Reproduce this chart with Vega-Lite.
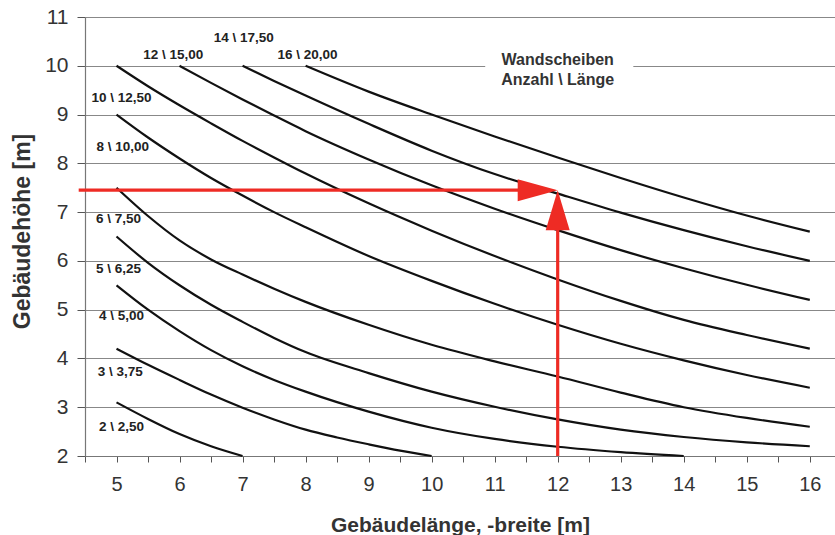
{
  "$schema": "https://vega.github.io/schema/vega-lite/v6.json",
  "width": 750,
  "height": 439,
  "autosize": {"type": "none"},
  "padding": {"left": 85, "top": 17, "right": 0, "bottom": 79},
  "background": "white",
  "config": {
    "font": "Liberation Sans",
    "view": {"stroke": null},
    "axis": {"labelFont": "Liberation Sans", "titleFont": "Liberation Sans"}
  },
  "datasets": {
    "curves": [
      {"n": "2", "l": 5, "h": 3.1}, {"n": "2", "l": 5.5, "h": 2.76}, {"n": "2", "l": 6, "h": 2.45}, {"n": "2", "l": 6.5, "h": 2.2}, {"n": "2", "l": 7, "h": 2.0},
      {"n": "3", "l": 5, "h": 4.2}, {"n": "3", "l": 5.5, "h": 3.87}, {"n": "3", "l": 6, "h": 3.56}, {"n": "3", "l": 6.5, "h": 3.26}, {"n": "3", "l": 7, "h": 2.99}, {"n": "3", "l": 7.5, "h": 2.75}, {"n": "3", "l": 8, "h": 2.54}, {"n": "3", "l": 8.5, "h": 2.38}, {"n": "3", "l": 9, "h": 2.24}, {"n": "3", "l": 9.5, "h": 2.11}, {"n": "3", "l": 10, "h": 2.0},
      {"n": "4", "l": 5, "h": 5.5}, {"n": "4", "l": 5.5, "h": 5.0}, {"n": "4", "l": 6, "h": 4.56}, {"n": "4", "l": 6.5, "h": 4.17}, {"n": "4", "l": 7, "h": 3.84}, {"n": "4", "l": 7.5, "h": 3.56}, {"n": "4", "l": 8, "h": 3.32}, {"n": "4", "l": 9, "h": 2.91}, {"n": "4", "l": 10, "h": 2.58}, {"n": "4", "l": 11, "h": 2.35}, {"n": "4", "l": 12, "h": 2.19}, {"n": "4", "l": 13, "h": 2.08}, {"n": "4", "l": 14, "h": 2.0},
      {"n": "5", "l": 5, "h": 6.5}, {"n": "5", "l": 5.5, "h": 5.96}, {"n": "5", "l": 6, "h": 5.5}, {"n": "5", "l": 6.5, "h": 5.1}, {"n": "5", "l": 7, "h": 4.75}, {"n": "5", "l": 7.5, "h": 4.42}, {"n": "5", "l": 8, "h": 4.13}, {"n": "5", "l": 9, "h": 3.7}, {"n": "5", "l": 10, "h": 3.32}, {"n": "5", "l": 11, "h": 3.01}, {"n": "5", "l": 12, "h": 2.75}, {"n": "5", "l": 13, "h": 2.54}, {"n": "5", "l": 14, "h": 2.39}, {"n": "5", "l": 15, "h": 2.28}, {"n": "5", "l": 16, "h": 2.2},
      {"n": "6", "l": 5, "h": 7.5}, {"n": "6", "l": 5.5, "h": 6.92}, {"n": "6", "l": 6, "h": 6.42}, {"n": "6", "l": 6.5, "h": 6.03}, {"n": "6", "l": 7, "h": 5.72}, {"n": "6", "l": 7.5, "h": 5.43}, {"n": "6", "l": 8, "h": 5.16}, {"n": "6", "l": 9, "h": 4.69}, {"n": "6", "l": 10, "h": 4.28}, {"n": "6", "l": 11, "h": 3.94}, {"n": "6", "l": 12, "h": 3.63}, {"n": "6", "l": 13, "h": 3.3}, {"n": "6", "l": 14, "h": 3.0}, {"n": "6", "l": 15, "h": 2.78}, {"n": "6", "l": 16, "h": 2.6},
      {"n": "8", "l": 5, "h": 9.0}, {"n": "8", "l": 5.5, "h": 8.53}, {"n": "8", "l": 6, "h": 8.1}, {"n": "8", "l": 6.5, "h": 7.7}, {"n": "8", "l": 7, "h": 7.34}, {"n": "8", "l": 7.5, "h": 7.0}, {"n": "8", "l": 8, "h": 6.69}, {"n": "8", "l": 9, "h": 6.1}, {"n": "8", "l": 10, "h": 5.59}, {"n": "8", "l": 11, "h": 5.12}, {"n": "8", "l": 12, "h": 4.69}, {"n": "8", "l": 13, "h": 4.3}, {"n": "8", "l": 14, "h": 3.96}, {"n": "8", "l": 15, "h": 3.66}, {"n": "8", "l": 16, "h": 3.4},
      {"n": "10", "l": 5, "h": 10.0}, {"n": "10", "l": 5.5, "h": 9.58}, {"n": "10", "l": 6, "h": 9.19}, {"n": "10", "l": 6.5, "h": 8.82}, {"n": "10", "l": 7, "h": 8.46}, {"n": "10", "l": 7.5, "h": 8.12}, {"n": "10", "l": 8, "h": 7.79}, {"n": "10", "l": 9, "h": 7.18}, {"n": "10", "l": 10, "h": 6.62}, {"n": "10", "l": 11, "h": 6.1}, {"n": "10", "l": 12, "h": 5.62}, {"n": "10", "l": 13, "h": 5.18}, {"n": "10", "l": 14, "h": 4.79}, {"n": "10", "l": 15, "h": 4.48}, {"n": "10", "l": 16, "h": 4.2},
      {"n": "12", "l": 6, "h": 10.0}, {"n": "12", "l": 6.5, "h": 9.65}, {"n": "12", "l": 7, "h": 9.31}, {"n": "12", "l": 7.5, "h": 8.98}, {"n": "12", "l": 8, "h": 8.66}, {"n": "12", "l": 9, "h": 8.08}, {"n": "12", "l": 10, "h": 7.55}, {"n": "12", "l": 11, "h": 7.07}, {"n": "12", "l": 12, "h": 6.63}, {"n": "12", "l": 13, "h": 6.22}, {"n": "12", "l": 14, "h": 5.85}, {"n": "12", "l": 15, "h": 5.51}, {"n": "12", "l": 16, "h": 5.2},
      {"n": "14", "l": 7, "h": 10.0}, {"n": "14", "l": 7.5, "h": 9.69}, {"n": "14", "l": 8, "h": 9.39}, {"n": "14", "l": 9, "h": 8.81}, {"n": "14", "l": 10, "h": 8.26}, {"n": "14", "l": 11, "h": 7.78}, {"n": "14", "l": 12, "h": 7.38}, {"n": "14", "l": 13, "h": 6.99}, {"n": "14", "l": 14, "h": 6.63}, {"n": "14", "l": 15, "h": 6.3}, {"n": "14", "l": 16, "h": 6.0},
      {"n": "16", "l": 8, "h": 10.0}, {"n": "16", "l": 9, "h": 9.47}, {"n": "16", "l": 10, "h": 9.0}, {"n": "16", "l": 11, "h": 8.55}, {"n": "16", "l": 12, "h": 8.12}, {"n": "16", "l": 13, "h": 7.7}, {"n": "16", "l": 14, "h": 7.3}, {"n": "16", "l": 15, "h": 6.93}, {"n": "16", "l": 16, "h": 6.6}
    ],
    "labels": [
      {"t": "2 \\ 2,50", "l": 5.08, "h": 2.59},
      {"t": "3 \\ 3,75", "l": 5.06, "h": 3.72},
      {"t": "4 \\ 5,00", "l": 5.08, "h": 4.87},
      {"t": "5 \\ 6,25", "l": 5.03, "h": 5.83},
      {"t": "6 \\ 7,50", "l": 5.03, "h": 6.86},
      {"t": "8 \\ 10,00", "l": 5.1, "h": 8.33},
      {"t": "10 \\ 12,50", "l": 5.08, "h": 9.34},
      {"t": "12 \\ 15,00", "l": 5.9, "h": 10.22},
      {"t": "14 \\ 17,50", "l": 7.02, "h": 10.57},
      {"t": "16 \\ 20,00", "l": 8.03, "h": 10.22}
    ],
    "legend": [
      {"t": "Wandscheiben", "l": 12.0, "h": 10.11},
      {"t": "Anzahl \\ Länge", "l": 12.0, "h": 9.7}
    ],
    "mask": [{"l": 10.85, "l2": 13.2, "h": 9.9, "h2": 10.1}],
    "arrows": [
      {"dir": "h", "l": 4.4, "l2": 11.4, "h": 7.45, "h2": 7.45},
      {"dir": "v", "l": 12, "l2": 12, "h": 2.0, "h2": 6.65}
    ],
    "heads": [
      {"dir": "h", "l": 12, "h": 7.45},
      {"dir": "v", "l": 12, "h": 7.45}
    ]
  },
  "encoding": {
    "x": {
      "field": "l", "type": "quantitative",
      "scale": {"domain": [4.5, 16.4], "nice": false, "zero": false},
      "axis": {
        "title": "Gebäudelänge, -breite [m]",
        "values": [4.5, 5, 5.5, 6, 6.5, 7, 7.5, 8, 8.5, 9, 9.5, 10, 10.5, 11, 11.5, 12, 12.5, 13, 13.5, 14, 14.5, 15, 15.5, 16],
        "labelExpr": "datum.value % 1 === 0 ? format(datum.value, 'd') : ''",
        "grid": false,
        "domainColor": "#777", "domainWidth": 1.2,
        "tickColor": "#555", "tickSize": 6, "tickWidth": 1,
        "labelFontSize": 20, "labelColor": "#333", "labelPadding": 12, "labelFlush": false,
        "titleFontSize": 21, "titleFontWeight": "bold", "titleColor": "#333",
        "titleBaseline": "alphabetic", "titleY": 75
      }
    },
    "y": {
      "field": "h", "type": "quantitative",
      "scale": {"domain": [2, 11], "nice": false, "zero": false},
      "axis": {
        "title": "Gebäudehöhe [m]",
        "values": [2, 3, 4, 5, 6, 7, 8, 9, 10, 11],
        "grid": true, "gridColor": "#888", "gridWidth": 1.2,
        "domainColor": "#777", "domainWidth": 1.2,
        "tickColor": "#555", "tickSize": 8,
        "labelFontSize": 21, "labelColor": "#333", "labelPadding": 9, "labelFlush": false,
        "titleFontSize": 23, "titleFontWeight": "bold", "titleColor": "#333",
        "titleAngle": 270, "titleX": -63, "titleY": 214, "titleBaseline": "middle", "titleAlign": "center"
      }
    }
  },
  "layer": [
    {
      "data": {"name": "mask"},
      "mark": {"type": "rect", "color": "white"},
      "encoding": {"x2": {"field": "l2"}, "y2": {"field": "h2"}}
    },
    {
      "data": {"name": "curves"},
      "mark": {"type": "line", "color": "#111", "strokeWidth": 2.2, "interpolate": "monotone"},
      "encoding": {"detail": {"field": "n"}}
    },
    {
      "data": {"name": "labels"},
      "mark": {"type": "text", "fontSize": 13.5, "fontWeight": "bold", "color": "#222", "align": "center", "baseline": "middle"},
      "encoding": {"text": {"field": "t"}}
    },
    {
      "data": {"name": "legend"},
      "mark": {"type": "text", "fontSize": 16, "fontWeight": "bold", "color": "#333", "align": "center", "baseline": "middle"},
      "encoding": {"text": {"field": "t"}}
    },
    {
      "data": {"name": "arrows"},
      "mark": {"type": "rule", "color": "#ee2b24", "strokeWidth": 3.2, "clip": false},
      "encoding": {"x2": {"field": "l2"}, "y2": {"field": "h2"}}
    },
    {
      "data": {"name": "heads"},
      "mark": {"type": "point", "filled": true, "color": "#ee2b24", "opacity": 1, "size": 1600},
      "encoding": {
        "shape": {
          "field": "dir", "type": "nominal", "legend": null,
          "scale": {"domain": ["h", "v"], "range": ["M0,0 L-2,-0.55 L-2,0.55 Z", "M0,0 L-0.6,2 L0.6,2 Z"]}
        }
      }
    }
  ]
}
